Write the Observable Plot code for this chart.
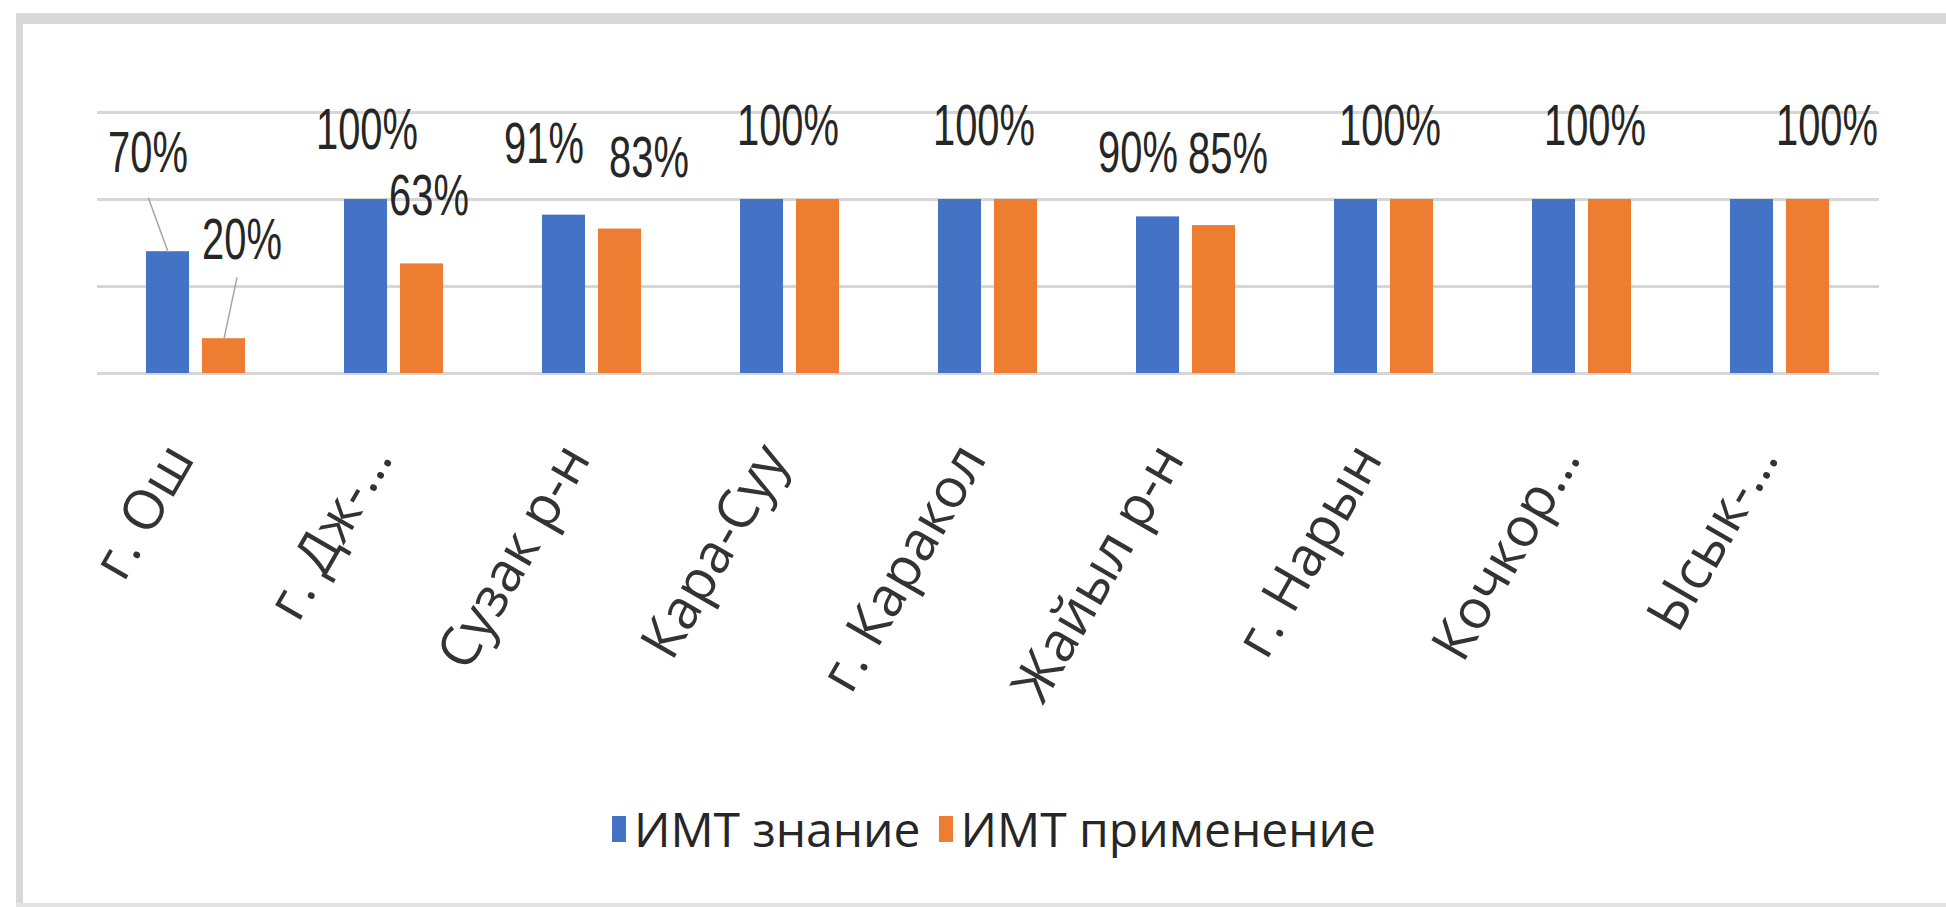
<!DOCTYPE html>
<html>
<head>
<meta charset="utf-8">
<script src="https://cdn.jsdelivr.net/npm/d3@7"></script>
<script src="https://cdn.jsdelivr.net/npm/@observablehq/plot@0.6"></script>
<style>
  html, body { margin: 0; padding: 0; background: #fff; }
  body { width: 1946px; height: 907px; position: relative; overflow: hidden; }
  .frame-top { position: absolute; left: 16px; top: 13px; width: 1930px; height: 11px; background: #d9d9d9; }
  .frame-left { position: absolute; left: 16px; top: 13px; width: 7px; height: 894px; background: #d9d9d9; }
  .frame-bottom { position: absolute; left: 16px; top: 903px; width: 1930px; height: 4px; background: #e3e3e3; }
  #chart { position: absolute; left: 0; top: 0; }
  #legend { position: absolute; left: 0; top: 796px; width: 1946px; display: flex; justify-content: center;
            padding-left: 42px; box-sizing: border-box; align-items: center;
            font-family: "Open Sans", sans-serif; font-size: 48px; color: #262626; }
  .item { display: flex; align-items: center; margin: 0 9px; }
  .key { width: 14px; height: 26px; margin-right: 8px; }
</style>
</head>
<body>
<div class="frame-top"></div>
<div class="frame-left"></div>
<div class="frame-bottom"></div>
<div id="chart"></div>
<div id="legend"></div>
<script>
// ---- data ----
const categories = ["г. Ош", "г. Дж-…", "Сузак р-н", "Кара-Суу", "г. Каракол", "Жайыл р-н", "г. Нарын", "Кочкор…", "Ысык-…"];
const seriesNames = ["ИМТ знание", "ИМТ применение"];
const knowledge = [0.70, 1.00, 0.91, 1.00, 1.00, 0.90, 1.00, 1.00, 1.00];
const application = [0.20, 0.63, 0.83, 1.00, 1.00, 0.85, 1.00, 1.00, 1.00];
const seriesColors = ["#4472C4", "#ED7D31"];
const gridTicks = [0, 0.5, 1, 1.5];

// ---- layout of the (manually placed) data labels: [dx, dy] in px from bar top ----
const labelOffsets = [
  [[-20, -98], [18, -98]],
  [[1, -69], [7, -67]],
  [[-20, -70], [29, -70]],
  [[26, -73], [-31, -73]],
  [[24, -73], [-33, -73]],
  [[-20, -63], [14, -71]],
  [[34, -73], [-22, -73]],
  [[41, -73], [-15, -73]],
  [[75, -73], [18, -73]]
];

const data = categories.flatMap((c, i) => [
  {cat: c, series: seriesNames[0], value: knowledge[i], idx: i, s: 0},
  {cat: c, series: seriesNames[1], value: application[i], idx: i, s: 1}
]);

// where both bars of a group share the same value, the two labels coincide: draw it once
const labelData = data.filter(d => !(d.s === 1 && knowledge[d.idx] === application[d.idx]));

const labelFont = "'Liberation Sans', Arial, sans-serif";
const leaderShape = {draw(context, l) { context.moveTo(0, 0); context.lineTo(0, -l); }};

const labelMarks = labelData.map(d => Plot.text([d], {
  fx: "cat", x: "series", y: "value",
  text: e => Math.round(e.value * 100) + "%",
  dx: labelOffsets[d.idx][d.s][0], dy: labelOffsets[d.idx][d.s][1],
  fontSize: 57, fontFamily: labelFont, fill: "#262626"
}));

const leaders = [
  Plot.vector([data[0]], {fx: "cat", x: "series", y: "value", anchor: "start", length: 57, rotate: -20,
    shape: leaderShape, stroke: "#a6a6a6", strokeWidth: 1.5, fill: "none"}),
  Plot.vector([data[1]], {fx: "cat", x: "series", y: "value", anchor: "start", length: 62, rotate: 12,
    shape: leaderShape, stroke: "#a6a6a6", strokeWidth: 1.5, fill: "none"})
];

const H = 770;
const chart = Plot.plot({
  width: 1946, height: H,
  marginLeft: 95, marginRight: 66, marginTop: 112, marginBottom: H - 373,
  style: {background: "transparent"},
  fx: {domain: categories, padding: 0, label: null},
  x: {domain: seriesNames, paddingInner: 0.23, paddingOuter: 0.86, axis: null},
  y: {domain: [0, 1.5], axis: null},
  color: {domain: seriesNames, range: seriesColors},
  marks: [
    Plot.gridY(gridTicks, {stroke: "#d6d6d6", strokeWidth: 3, strokeOpacity: 1}),
    Plot.barY(data, {fx: "cat", x: "series", y: "value", fill: "series"}),
    ...leaders,
    ...labelMarks,
    Plot.axisFx({anchor: "bottom", tickRotate: -60, tickSize: 0, tickPadding: 76, dx: -16, fontSize: 55,
      fontFamily: "'Open Sans', sans-serif", color: "#333", label: null})
  ]
});
// the picture's value labels are tall and narrow: compress them horizontally about their anchor
chart.querySelectorAll('g[aria-label="text"] text').forEach(t => {
  const tr = t.getAttribute("transform") || "";
  t.setAttribute("transform", tr + " scale(0.7,1)");
});
document.getElementById("chart").appendChild(chart);

// legend
const legend = document.getElementById("legend");
seriesNames.forEach((name, i) => {
  const item = document.createElement("div");
  item.className = "item";
  const key = document.createElement("span");
  key.className = "key";
  key.style.background = seriesColors[i];
  const label = document.createElement("span");
  label.textContent = name;
  item.appendChild(key);
  item.appendChild(label);
  legend.appendChild(item);
});
</script>
</body>
</html>
